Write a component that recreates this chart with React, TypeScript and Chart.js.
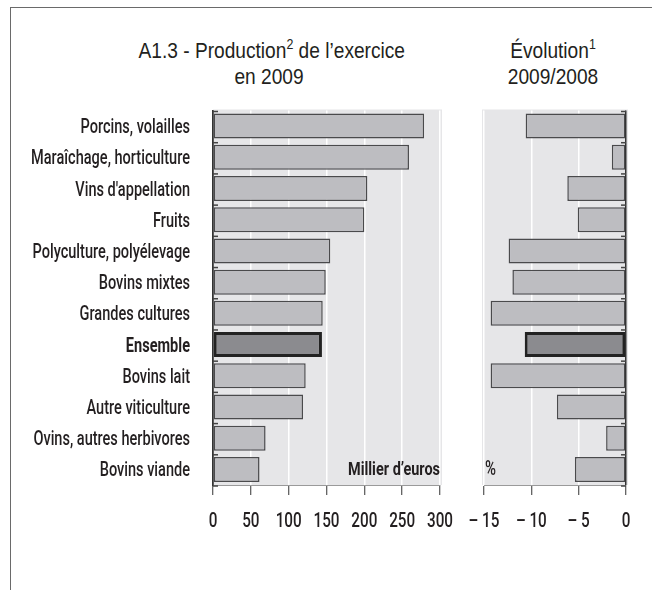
import React, { useEffect, useRef, useState } from "react";
import { Chart, registerables } from "chart.js";

Chart.register(...registerables);

const categories = [
  "Porcins, volailles",
  "Maraîchage, horticulture",
  "Vins d'appellation",
  "Fruits",
  "Polyculture, polyélevage",
  "Bovins mixtes",
  "Grandes cultures",
  "Ensemble",
  "Bovins lait",
  "Autre viticulture",
  "Ovins, autres herbivores",
  "Bovins viande",
];
const production = [279, 259, 204, 200, 155, 149, 145, 144, 122.5, 119, 69.5, 61.5];
const evolution = [-10.6, -1.5, -6.2, -5.1, -12.4, -12.0, -14.3, -10.7, -14.3, -7.3, -2.1, -5.4];
const highlightIndex = 7;
const prodTicks = { min: 0, max: 300, step: 50 };
const evolTicks = { min: -15, max: 0, step: 5 };

const FONT = '"Liberation Sans", Arial, sans-serif';
const LABEL_FONT = 'Roboto, "Liberation Sans", sans-serif';
const TEXT = "#231f20";
const BAR_FILL = "#bdbdc1";
const BAR_BORDER = "#4a4a4c";
const HL_FILL = "#8b8b8f";
const HL_BORDER = "#222222";
const PANEL_BG = "#e6e6e8";

function fitScale(ctx: CanvasRenderingContext2D, font: string, sample: string, target: number) {
  ctx.save();
  ctx.font = font;
  const w = ctx.measureText(sample).width;
  ctx.restore();
  return w > 0 ? target / w : 1;
}

function condensedText(
  ctx: CanvasRenderingContext2D,
  text: string,
  x: number,
  y: number,
  font: string,
  sx: number,
  align: "left" | "right" | "center",
  baseline: CanvasTextBaseline
) {
  ctx.save();
  ctx.font = font;
  ctx.textAlign = align;
  ctx.textBaseline = baseline;
  ctx.fillStyle = TEXT;
  ctx.translate(x, y);
  ctx.scale(sx, 1);
  ctx.fillText(text, 0, 0);
  ctx.restore();
}

function makePanelPlugin(opts: {
  extL: number;
  extR: number;
  side: "left" | "right";
  unit: string;
  unitAlign: "left" | "right";
  showCats: boolean;
  fmt: (v: number) => string;
}) {
  return {
    id: "panelDeco",
    beforeDraw(chart: any) {
      const { ctx, chartArea } = chart;
      ctx.save();
      ctx.fillStyle = PANEL_BG;
      ctx.fillRect(
        chartArea.left - opts.extL,
        chartArea.top - 1,
        chartArea.right - chartArea.left + opts.extL + opts.extR,
        chartArea.bottom - chartArea.top + 1
      );
      ctx.restore();
    },
    beforeDatasetsDraw(chart: any) {
      const { ctx, chartArea } = chart;
      const n = categories.length;
      const h = (chartArea.bottom - chartArea.top) / n;
      ctx.save();
      ctx.strokeStyle = "#444";
      ctx.lineWidth = 1.5;
      for (let i = 0; i <= n; i++) {
        const y = chartArea.top + i * h + 1;
        ctx.beginPath();
        if (opts.side === "left") {
          ctx.moveTo(chartArea.left, y);
          ctx.lineTo(chartArea.left + 5, y);
        } else {
          ctx.moveTo(chartArea.right, y);
          ctx.lineTo(chartArea.right - 5, y);
        }
        ctx.stroke();
      }
      ctx.restore();
    },
    afterDraw(chart: any) {
      const { ctx, chartArea } = chart;
      const xs = chart.scales.x;
      const ys = chart.scales.y;
      const tickFont = `500 21px ${LABEL_FONT}`;
      const tickSx = fitScale(ctx, tickFont, "300", 26);
      xs.ticks.forEach((t: any) => {
        const px = xs.getPixelForValue(t.value);
        condensedText(ctx, opts.fmt(t.value), px, chartArea.bottom + 42, tickFont, tickSx, "center", "alphabetic");
      });
      if (opts.showCats) {
        const catFont = `500 20px ${LABEL_FONT}`;
        const catSx = fitScale(ctx, catFont, "Maraîchage, horticulture", 159);
        categories.forEach((c, i) => {
          const py = ys.getPixelForValue(i);
          const bold = i === highlightIndex;
          condensedText(
            ctx,
            c,
            chartArea.left - 23,
            py + 7,
            bold ? `bold 20px ${LABEL_FONT}` : catFont,
            catSx,
            "right",
            "alphabetic"
          );
        });
      }
      if (opts.unitAlign === "right") {
        const uf = `bold 19px ${LABEL_FONT}`;
        const us = fitScale(ctx, uf, opts.unit, 92);
        condensedText(ctx, opts.unit, chartArea.right, chartArea.bottom - 10, uf, us, "right", "alphabetic");
      } else {
        const uf = `500 20px ${LABEL_FONT}`;
        const us = fitScale(ctx, uf, opts.unit, 11);
        condensedText(ctx, opts.unit, chartArea.left + 1, chartArea.bottom - 10, uf, us, "left", "alphabetic");
      }
    },
  };
}

function makeConfig(
  values: number[],
  range: { min: number; max: number; step: number },
  yWidth: number,
  padding: any,
  plugin: any
): any {
  return {
    type: "bar",
    data: {
      labels: categories,
      datasets: [
        {
          data: values,
          backgroundColor: values.map((_, i) => (i === highlightIndex ? HL_FILL : BAR_FILL)),
          borderColor: values.map((_, i) => (i === highlightIndex ? HL_BORDER : BAR_BORDER)),
          borderWidth: values.map((_, i) => (i === highlightIndex ? 3 : 1.5)),
          borderSkipped: false,
          categoryPercentage: 1,
          barPercentage: 0.8,
        },
      ],
    },
    options: {
      indexAxis: "y",
      animation: false,
      responsive: false,
      devicePixelRatio: 1,
      layout: { padding },
      plugins: {
        legend: { display: false },
        tooltip: { enabled: false },
        title: { display: false },
      },
      scales: {
        x: {
          type: "linear",
          min: range.min,
          max: range.max,
          afterFit(scale: any) {
            scale.height = 105;
          },
          ticks: {
            display: false,
            stepSize: range.step,
            maxRotation: 0,
            autoSkip: false,
          },
          grid: {
            color: (ctx: any) => (ctx.tick && ctx.tick.value === 0 ? "#333" : "#ffffff"),
            lineWidth: 1.5,
            tickColor: "#333",
            tickLength: 10,
            tickWidth: 1,
            drawTicks: true,
          },
          border: { display: true, color: "#9a9a9a", width: 1 },
        },
        y: {
          type: "category",
          display: yWidth > 0,
          afterFit(scale: any) {
            scale.width = yWidth;
          },
          ticks: { display: false },
          grid: { display: false, drawTicks: false },
          border: { display: true, color: "#333", width: 1.5 },
        },
      },
    },
    plugins: [plugin],
  };
}

function BarPanel(props: { left: number; width: number; config: any }) {
  const ref = useRef<HTMLCanvasElement | null>(null);
  const [err, setErr] = useState<string>("");
  useEffect(() => {
    if (!ref.current) return;
    let chart: any = null;
    try {
      chart = new Chart(ref.current, props.config);
    } catch (e: any) {
      setErr(String(e && e.stack ? e.stack : e));
    }
    return () => {
      if (chart) chart.destroy();
    };
  }, []);
  return (
    <>
      <canvas
        ref={ref}
        width={props.width}
        height={590}
        style={{
          position: "absolute",
          left: props.left,
          top: 0,
          width: props.width,
          height: 590,
        }}
      />
      {err ? (
        <div style={{ position: "absolute", left: 0, top: 300, fontSize: 10, color: "red", width: 600 }}>{err}</div>
      ) : null}
    </>
  );
}

const fmtProd = (v: number) => String(v);
const fmtEvol = (v: number) => (v < 0 ? "\u2013 " + Math.abs(v) : String(v));

export default function App() {
  const leftConfig = makeConfig(
    production,
    prodTicks,
    213,
    { left: 0, right: 30, top: 110.5, bottom: 0 },
    makePanelPlugin({
      extL: 0,
      extR: 2,
      side: "left",
      unit: "Millier d\u2019euros",
      unitAlign: "right",
      showCats: true,
      fmt: fmtProd,
    })
  );
  const rightConfig = makeConfig(
    evolution,
    evolTicks,
    0,
    { left: 44, right: 26, top: 110.5, bottom: 0 },
    makePanelPlugin({
      extL: 2,
      extR: 2,
      side: "right",
      unit: "%",
      unitAlign: "left",
      showCats: false,
      fmt: fmtEvol,
    })
  );
  const titleStyle: React.CSSProperties = {
    position: "absolute",
    top: 38,
    fontFamily: FONT,
    fontSize: 22,
    lineHeight: "26px",
    color: TEXT,
    textAlign: "center",
    whiteSpace: "nowrap",
    transform: "scaleX(0.87)",
    transformOrigin: "50% 50%",
  };
  const supStyle: React.CSSProperties = { fontSize: "0.65em", lineHeight: 0, verticalAlign: "0.6em" };
  return (
    <div
      style={{
        position: "fixed",
        left: 0,
        top: 0,
        width: 652,
        height: 590,
        overflow: "hidden",
        background: "#ffffff",
      }}
    >
      <div
        style={{
          position: "absolute",
          left: 10,
          top: 7,
          width: 700,
          height: 700,
          borderLeft: "1.5px solid #6a6a6a",
          borderTop: "1.5px solid #6a6a6a",
        }}
      />
      <div style={{ ...titleStyle, left: 119, width: 300 }}>
        A1.3 - Production<span style={supStyle}>2</span> de l’exercice
        <br />
        en 2009
      </div>
      <div style={{ ...titleStyle, left: 453, width: 200 }}>
        Évolution<span style={supStyle}>1</span>
        <br />
        2009/2008
      </div>
      <BarPanel left={0} width={470} config={leftConfig} />
      <BarPanel left={440} width={212} config={rightConfig} />
    </div>
  );
}
